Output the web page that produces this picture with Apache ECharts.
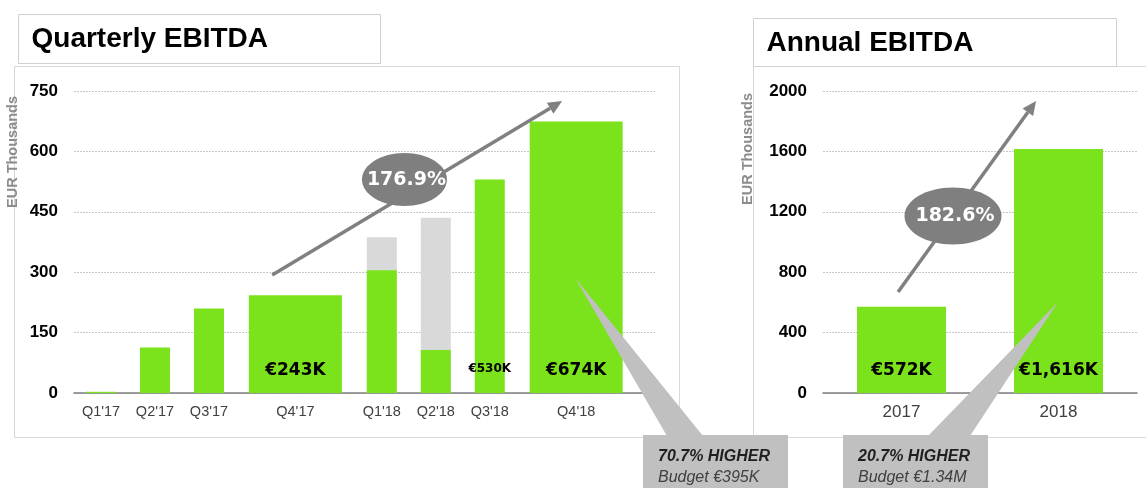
<!DOCTYPE html>
<html>
<head>
<meta charset="utf-8">
<title>EBITDA</title>
<script src="https://cdn.jsdelivr.net/npm/echarts@6/dist/echarts.min.js"></script>
<style>
    html, body { margin: 0; padding: 0; background: #fff; }
    #main { width: 1146px; height: 488px; }
</style>
</head>
<body>
<div id="main"></div>
<script>
// 季度数据
var quarters = ["Q1'17", "Q2'17", "Q3'17", "Q4'17", "Q1'18", "Q2'18", "Q3'18", "Q4'18"];
var quarterlyEbitda = [3, 113, 210, 243, 305, 107, 530, 674];
var quarterlyBudget = [null, null, null, null, 387, 435, null, null]; // 灰色柱
var quarterlyLabelled = ["Q4'17", "Q3'18", "Q4'18"];
var quarterlyTicks = [0, 150, 300, 450, 600, 750];

// 年度数据
var years = ['2017', '2018'];
var annualEbitda = [572, 1616];
var annualTicks = [0, 400, 800, 1200, 1600, 2000];

// 标注文字
var quarterlyGrowth = '176.9%';
var annualGrowth = '182.6%';
var quarterlyNote = ['70.7% HIGHER', 'Budget €395K'];
var annualNote = ['20.7% HIGHER', 'Budget €1.34M'];

var GREEN = '#7be31b';
var AXIS_FONT = '"Liberation Sans", Arial, sans-serif';
var VALUE_FONT = '"DejaVu Sans", sans-serif';

/** Q4 的柱子更宽, 占 2.2 个位置 */
function quarterSpan(name) {
    return name.indexOf('Q4') === 0 ? 2.2 : 1;
}
var centers = [];
var pos = 0;
for (var i = 0; i < quarters.length; i++) {
    var span = quarterSpan(quarters[i]);
    centers.push(pos + span / 2);
    pos += span;
}
var X_MAX = 10.76;

var narrowData = [], wideData = [], budgetData = [];
for (var i = 0; i < quarters.length; i++) {
    var item = { value: [centers[i], quarterlyEbitda[i]] };
    if (quarterlyLabelled.indexOf(quarters[i]) >= 0) {
        item.label = quarterSpan(quarters[i]) > 1
            ? { show: true, fontSize: 17, distance: 14 }
            : { show: true, fontSize: 12, distance: 18 };
    }
    if (quarterSpan(quarters[i]) > 1) wideData.push(item); else narrowData.push(item);
    if (quarterlyBudget[i] != null) budgetData.push([centers[i], quarterlyBudget[i]]);
}

function tickAxis(ticks, grid) {
    return {
        type: 'value', gridIndex: grid,
        min: ticks[0], max: ticks[ticks.length - 1], interval: ticks[1] - ticks[0],
        axisLine: { show: false }, axisTick: { show: false },
        splitLine: { lineStyle: { color: '#c8c8c8', type: [2, 1], width: 1 } },
        axisLabel: {
            margin: 16, fontSize: 17, fontWeight: 'bold', color: '#000', fontFamily: AXIS_FONT,
            formatter: function (v) { return String(v); }
        }
    };
}

var baseLine = { show: true, onZero: true, lineStyle: { color: '#7f7f7f', width: 1.5 } };

var barLabel = {
    show: false, position: 'insideBottom', color: '#000', fontWeight: 'bold', fontFamily: VALUE_FONT,
    formatter: function (p) { return '€' + p.value[1] + 'K'; }
};

var myChart = echarts.init(document.getElementById('main'));
var option = {
    animation: false,
    backgroundColor: '#fff',
    grid: [
        { left: 74, top: 91, width: 581, height: 302 },
        { left: 823, top: 91, width: 314, height: 302 }
    ],
    xAxis: [
        {
            type: 'value', gridIndex: 0, min: 0, max: X_MAX,
            axisLine: baseLine, axisTick: { show: false }, splitLine: { show: false },
            axisLabel: {
                customValues: centers, margin: 11, fontSize: 14.5, color: '#404040', fontFamily: AXIS_FONT,
                formatter: function (v) {
                    var best = 0;
                    for (var k = 0; k < centers.length; k++) {
                        if (Math.abs(centers[k] - v) < Math.abs(centers[best] - v)) best = k;
                    }
                    return quarters[best];
                }
            }
        },
        { type: 'value', gridIndex: 0, min: 0, max: X_MAX, show: false },
        {
            type: 'category', gridIndex: 1, data: years,
            axisLine: baseLine, axisTick: { show: false },
            axisLabel: { margin: 11, fontSize: 17, color: '#404040', fontFamily: AXIS_FONT }
        },
        { type: 'value', gridIndex: 1, min: 0, max: years.length, show: false }
    ],
    yAxis: [tickAxis(quarterlyTicks, 0), tickAxis(annualTicks, 1)],
    series: [
        {
            name: 'budget', type: 'bar', xAxisIndex: 0, yAxisIndex: 0,
            barWidth: 30, barGap: '-100%', itemStyle: { color: '#d9d9d9' },
            data: budgetData
        },
        {
            name: 'quarterly', type: 'bar', xAxisIndex: 0, yAxisIndex: 0,
            barWidth: 30, barGap: '-100%', itemStyle: { color: GREEN },
            label: barLabel, data: narrowData
        },
        {
            name: 'quarterlyQ4', type: 'bar', xAxisIndex: 1, yAxisIndex: 0,
            barWidth: 93, itemStyle: { color: GREEN },
            label: barLabel, data: wideData
        },
        {
            name: 'annual', type: 'bar', xAxisIndex: 2, yAxisIndex: 1,
            barWidth: 89, itemStyle: { color: GREEN },
            label: {
                show: true, position: 'insideBottom', distance: 14, color: '#000',
                fontSize: 17, fontWeight: 'bold', fontFamily: VALUE_FONT,
                formatter: function (p) { return '€' + p.value.toLocaleString('en-US') + 'K'; }
            },
            data: annualEbitda
        }
    ]
};
myChart.setOption(option);

/** 数据坐标转像素 */
function px(xAxis, yAxis, pt) {
    return myChart.convertToPixel({ xAxisIndex: xAxis, yAxisIndex: yAxis }, pt);
}

function arrow(a, b) {
    var dx = b[0] - a[0], dy = b[1] - a[1];
    var len = Math.sqrt(dx * dx + dy * dy);
    var ux = dx / len, uy = dy / len;
    var hl = 14, hw = 6.5;
    var base = [b[0] - ux * hl, b[1] - uy * hl];
    return [
        { type: 'line', z: 100, shape: { x1: a[0], y1: a[1], x2: base[0], y2: base[1] },
          style: { stroke: '#808080', lineWidth: 3.5 } },
        { type: 'polygon', z: 100,
          shape: { points: [b, [base[0] - uy * hw, base[1] + ux * hw], [base[0] + uy * hw, base[1] - ux * hw]] },
          style: { fill: '#808080' } }
    ];
}

function bubble(c, rx, ry, text) {
    return [
        { type: 'ellipse', z: 101, shape: { cx: c[0], cy: c[1], rx: rx, ry: ry }, style: { fill: '#7f7f7f' } },
        { type: 'text', z: 102, x: c[0] + 2, y: c[1],
          style: { text: text, fill: '#fff', font: 'bold 19px ' + VALUE_FONT, align: 'center', verticalAlign: 'middle' } }
    ];
}

function callout(tip, baseL, baseR, box, lines) {
    return [
        { type: 'polygon', z: 103, shape: { points: [tip, baseL, baseR] }, style: { fill: '#c0c0c0' } },
        { type: 'rect', z: 103, shape: box, style: { fill: '#c0c0c0' } },
        { type: 'text', z: 104, x: box.x + 15, y: 457,
          style: { text: lines[0], fill: '#1f1f1f', font: 'italic bold 16px ' + AXIS_FONT, verticalAlign: 'middle' } },
        { type: 'text', z: 104, x: box.x + 15, y: 478,
          style: { text: lines[1], fill: '#404040', font: 'italic 16px ' + AXIS_FONT, verticalAlign: 'middle' } }
    ];
}

function titleBox(r, text, ty) {
    return [
        { type: 'rect', z: 90, shape: r, style: { fill: '#fff', stroke: '#d0d0d0', lineWidth: 1 } },
        { type: 'text', z: 91, x: r.x + 13, y: ty,
          style: { text: text, fill: '#000', font: 'bold 28px ' + AXIS_FONT, verticalAlign: 'middle' } }
    ];
}

function yName(x, y) {
    return { type: 'text', z: 95, x: x, y: y, rotation: Math.PI / 2,
             style: { text: 'EUR Thousands', fill: '#8c8c8c', font: 'bold 14.5px ' + AXIS_FONT,
                      align: 'center', verticalAlign: 'middle' } };
}

var g = [];
// 面板边框
g.push({ type: 'rect', z: 1, shape: { x: 14.5, y: 66.5, width: 665, height: 371 },
         style: { fill: null, stroke: '#d9d9d9', lineWidth: 1 } });
g.push({ type: 'rect', z: 1, shape: { x: 753.5, y: 66.5, width: 420, height: 371 },
         style: { fill: null, stroke: '#d9d9d9', lineWidth: 1 } });
g = g.concat(titleBox({ x: 18.5, y: 14.5, width: 362, height: 49 }, 'Quarterly EBITDA', 39));
g = g.concat(titleBox({ x: 753.5, y: 18.5, width: 363, height: 48 }, 'Annual EBITDA', 43));
g.push(yName(13, 152));
g.push(yName(748, 149));

// 增长箭头
g = g.concat(arrow(px(0, 0, [3.67, 293]), px(0, 0, [9.04, 725])));
g = g.concat(bubble(px(0, 0, [6.12, 530]), 42.5, 26.5, quarterlyGrowth));
g = g.concat(arrow(px(3, 1, [0.478, 669]), px(3, 1, [1.357, 1934])));
g = g.concat(bubble(px(3, 1, [0.828, 1172]), 48.5, 28.5, annualGrowth));

// 预算说明
g = g.concat(callout(px(0, 0, [9.28, 286]), [667, 436], [703, 436],
                     { x: 643, y: 435, width: 145, height: 60 }, quarterlyNote));
g = g.concat(callout(px(3, 1, [1.497, 603]), [928, 436], [970, 436],
                     { x: 843, y: 435, width: 145, height: 60 }, annualNote));

myChart.setOption({ graphic: g });
</script>
</body>
</html>
